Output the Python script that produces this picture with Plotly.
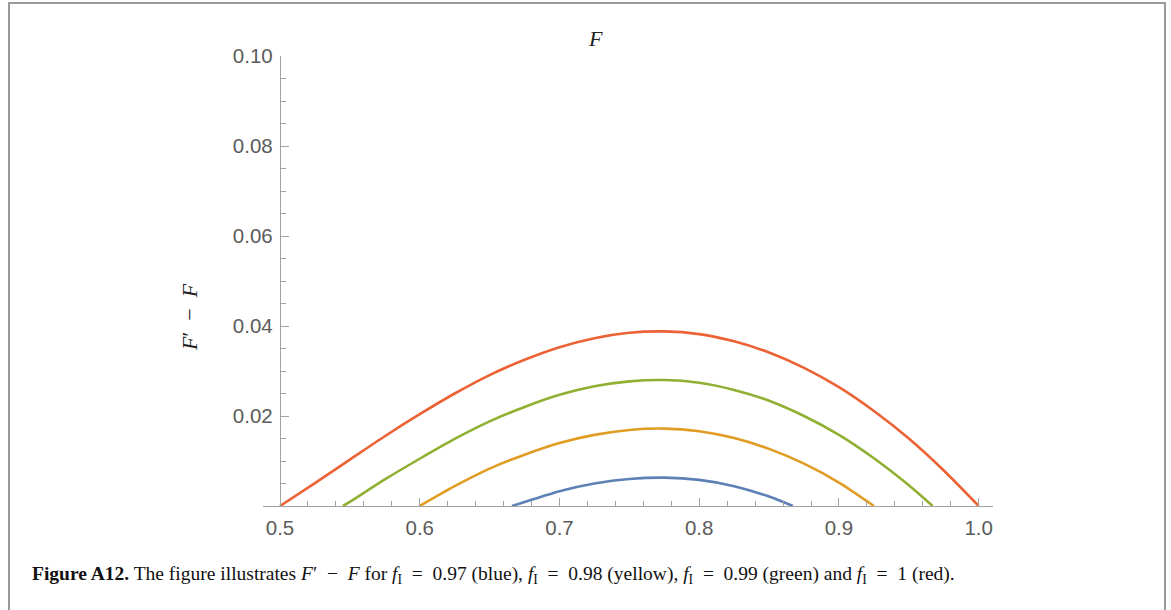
import plotly.graph_objects as go

W, H = 1171, 610

# ---- data ----
red_x = [0.5, 0.525, 0.55, 0.575, 0.6, 0.625, 0.65, 0.675, 0.7, 0.725, 0.75, 0.775,
         0.8, 0.825, 0.85, 0.875, 0.9, 0.925, 0.95, 0.975, 1.0]
red_y = [0, 0.0051, 0.0103, 0.0155, 0.0204, 0.0250, 0.0291, 0.0325, 0.0353, 0.0373, 0.0385, 0.0388,
         0.0382, 0.0366, 0.0341, 0.0307, 0.0264, 0.0211, 0.0150, 0.0079, 0]

green_x = [0.545, 0.55, 0.575, 0.6, 0.625, 0.65, 0.675, 0.7, 0.725, 0.75, 0.775,
           0.8, 0.825, 0.85, 0.875, 0.9, 0.925, 0.95, 0.967]
green_y = [0, 0.0009, 0.0059, 0.0105, 0.0149, 0.0188, 0.0220, 0.0247, 0.0266, 0.0277, 0.0280,
           0.0274, 0.0258, 0.0234, 0.0200, 0.0158, 0.0106, 0.0046, 0]

yellow_x = [0.6, 0.625, 0.65, 0.675, 0.7, 0.725, 0.75, 0.775, 0.8, 0.825, 0.85, 0.875, 0.9, 0.925]
yellow_y = [0, 0.0044, 0.0083, 0.0114, 0.0140, 0.0158, 0.0169, 0.0172, 0.0166, 0.0151, 0.0127,
            0.0094, 0.0052, 0]

blue_x = [0.666, 0.675, 0.7, 0.725, 0.75, 0.775, 0.8, 0.825, 0.85, 0.867]
blue_y = [0, 0.0009, 0.0033, 0.0050, 0.0060, 0.0063, 0.0058, 0.0044, 0.0021, 0]

x_ticks = [0.5, 0.6, 0.7, 0.8, 0.9, 1.0]
x_tick_labels = ["0.5", "0.6", "0.7", "0.8", "0.9", "1.0"]
y_ticks = [0.02, 0.04, 0.06, 0.08, 0.10]
y_tick_labels = ["0.02", "0.04", "0.06", "0.08", "0.10"]

series = [
    (blue_x, blue_y, "#5E81B5", "f_I = 0.97"),
    (yellow_x, yellow_y, "#E19C24", "f_I = 0.98"),
    (green_x, green_y, "#8FB032", "f_I = 0.99"),
    (red_x, red_y, "#EB6235", "f_I = 1"),
]

fig = go.Figure()
for xs, ys, col, name in series:
    fig.add_trace(go.Scatter(x=xs, y=ys, mode="lines", name=name,
                             line=dict(color=col, width=2.6, shape="spline", smoothing=0.8),
                             hoverinfo="x+y"))

axis_col = "#a2a2a2"
lab_col = "#5c5c5c"
lab_font = dict(family="Liberation Sans, Arial, sans-serif", size=20.5, color=lab_col)

x_px0, x_px1 = 263, 993          # x-axis line extent in pixels
y_px_bot, y_px_top = 506, 56     # y = 0 and y = 0.10 in pixels
xr = [0.5 - (280 - x_px0) / 1397.4, 1.0 + (x_px1 - 978.7) / 1397.4]

fig.update_layout(
    width=W, height=H, autosize=False,
    margin=dict(l=0, r=0, t=0, b=0, pad=0),
    paper_bgcolor="white", plot_bgcolor="white",
    showlegend=False,
    xaxis=dict(domain=[x_px0 / W, x_px1 / W], range=xr, automargin=False,
               showgrid=False, zeroline=False, showline=True, linecolor=axis_col, linewidth=1.3,
               ticks="inside", ticklen=8, tickwidth=1, tickcolor=axis_col,
               tickvals=x_ticks, ticktext=x_tick_labels, tickfont=lab_font, ticklabelstandoff=3,
               minor=dict(dtick=0.02, tick0=0.5, ticks="inside", ticklen=5, tickwidth=1, tickcolor=axis_col, showgrid=False),
               anchor="y", fixedrange=True),
    yaxis=dict(domain=[1 - y_px_bot / H, 1 - y_px_top / H], range=[0, 0.1], automargin=False,
               anchor="free", position=280 / W,
               showgrid=False, zeroline=False, showline=True, linecolor=axis_col, linewidth=1.3,
               ticks="inside", ticklen=8, tickwidth=1, tickcolor=axis_col,
               tickvals=y_ticks, ticktext=y_tick_labels, tickfont=lab_font, ticklabelstandoff=3,
               minor=dict(dtick=0.005, tick0=0, ticks="inside", ticklen=5, tickwidth=1, tickcolor=axis_col, showgrid=False),
               fixedrange=True),
)

serif = "Liberation Serif, Times New Roman, serif"
# axis titles
fig.add_annotation(x=595 / W, y=1 - 38 / H, xref="paper", yref="paper", xanchor="center", yanchor="middle",
                   text="<i>F</i>", showarrow=False, font=dict(family=serif, size=22, color="#222"))
fig.add_annotation(x=189 / W, y=1 - 317 / H, xref="paper", yref="paper", xanchor="center", yanchor="middle",
                   text="<i>F</i>′\u2002−\u2002<i>F</i>", textangle=-90, showarrow=False,
                   font=dict(family=serif, size=22, color="#222"))

# caption
eq = "\u2002=\u2002"
caption = ("<b>Figure A12.</b> The figure illustrates <i>F</i>′\u2002−\u2002<i>F</i> for "
           f"<i>f</i><sub>I</sub>{eq}0.97 (blue), <i>f</i><sub>I</sub>{eq}0.98 (yellow), "
           f"<i>f</i><sub>I</sub>{eq}0.99 (green) and <i>f</i><sub>I</sub>{eq}1 (red).")
fig.add_annotation(x=30 / W, y=1 - 575 / H, xref="paper", yref="paper", xanchor="left", yanchor="middle",
                   text=caption, showarrow=False, font=dict(family=serif, size=19.5, color="#111"))

# frame
fig.add_shape(type="rect", xref="paper", yref="paper",
              x0=9 / W, x1=1165 / W, y0=-0.05, y1=1 - 3 / H,
              line=dict(color="#9a9a9a", width=2), layer="above")

post = ("document.documentElement.style.margin='0';document.body.style.margin='0';"
        "document.documentElement.style.overflow='hidden';document.body.style.overflow='hidden';"
        "var d=document.getElementById('{plot_id}');d.style.position='fixed';d.style.left='0px';d.style.top='0px';")
fig.write_html("out.html", config={"displayModeBar": False}, post_script=post)
